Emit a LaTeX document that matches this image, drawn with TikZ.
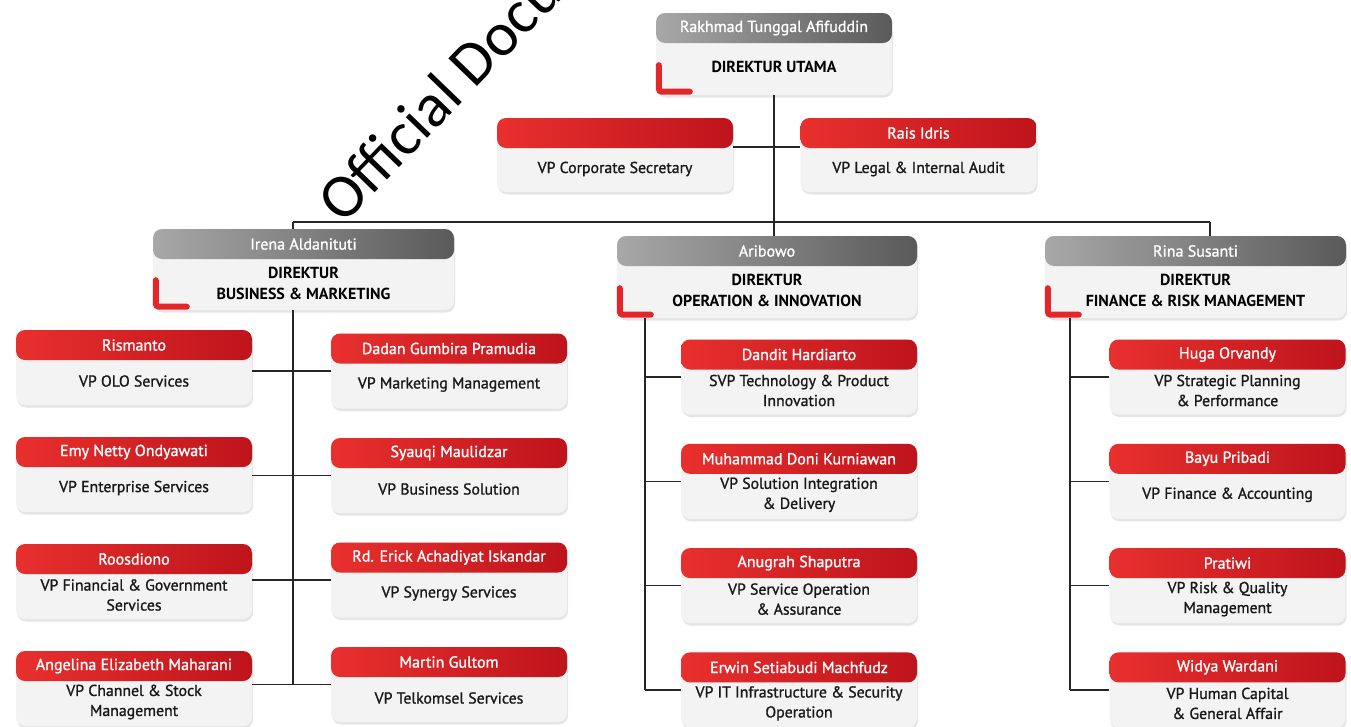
\documentclass[tikz,border=0pt]{standalone}
\usepackage{fontspec}
\setmainfont{PT Sans}
\newfontfamily\medfont{PT Sans}[FakeBold=1.2]
\newfontfamily\markfont{Carlito}
\usetikzlibrary{shadows, positioning}

\definecolor{hdred}{HTML}{E8302E}
\definecolor{hdreddark}{HTML}{BE141C}
\definecolor{hdgray}{HTML}{A8A8A8}
\definecolor{hdgraydark}{HTML}{5A5A5A}
\definecolor{bodygray}{HTML}{F3F3F3}
\definecolor{markred}{HTML}{E2262A}
\definecolor{linegray}{HTML}{262626}

\tikzstyle{box} = [rectangle, rounded corners=9pt, minimum width=236pt, minimum height=75pt, inner sep=0pt, fill=bodygray, drop shadow={opacity=0.2, shadow xshift=1pt, shadow yshift=-2.5pt}]
\tikzstyle{nametext} = [text=white, font=\medfont\fontsize{16}{18}\selectfont]
\tikzstyle{titletext} = [text=black!90, align=center, font=\medfont\fontsize{15.8}{20}\selectfont]
\tikzstyle{dirtext} = [text=black, align=center, font=\bfseries\fontsize{16}{21}\selectfont]
\tikzstyle{link} = [draw=linegray, line width=1.4pt]
\tikzstyle{redmark} = [draw=markred, line width=6pt, line cap=round, rounded corners=3pt]
\tikzstyle{watermark} = [text=black, font=\markfont\fontsize{62}{62}\selectfont, inner sep=0pt]

\tikzset{
  vp/.style 2 args={box, path picture={
    \shade[left color=hdred, right color=hdreddark] (path picture bounding box.north west) rectangle ([yshift=-30pt]path picture bounding box.north east);
    \node[nametext] at ([yshift=-15pt]path picture bounding box.north) {#1};
    \node[titletext] at ([yshift=-51pt]path picture bounding box.north) {#2};
  }},
  dir/.style 2 args={box, minimum width=301pt, minimum height=82pt, path picture={
    \shade[left color=hdgray, right color=hdgraydark] (path picture bounding box.north west) rectangle ([yshift=-30pt]path picture bounding box.north east);
    \node[nametext] at ([yshift=-15pt]path picture bounding box.north) {#1};
    \node[dirtext] at ([yshift=-54pt]path picture bounding box.north) {#2};
  }},
}

\begin{document}
\begin{tikzpicture}[x=1pt, y=-1pt]

\useasboundingbox (0,0) rectangle (1351,726);
\fill[white] (0,0) rectangle (1351,726);
\clip (0,0) rectangle (1351,726);

% board
\node (utama) [dir={Rakhmad Tunggal Afifuddin}{DIREKTUR UTAMA}, minimum width=236pt] at (774,54) {};
\node (corpsec) [vp={}{VP Corporate Secretary}, minimum height=74pt] at (615,155) {};
\node (legal) [vp={Rais Idris}{VP Legal \& Internal Audit}, minimum height=74pt] at (918.5,155) {};

\node (irena) [dir={Irena Aldanituti}{DIREKTUR\\BUSINESS \& MARKETING}, minimum height=81pt] at (303.5,269.5) {};
\node (aribowo) [dir={Aribowo}{DIREKTUR\\OPERATION \& INNOVATION}, minimum width=300pt] at (767,277) {};
\node (rina) [dir={Rina Susanti}{DIREKTUR\\FINANCE \& RISK MANAGEMENT}] at (1195.5,277) {};

\draw [redmark] ([xshift=3pt, yshift=30pt]utama.south west) |- ([xshift=34pt, yshift=3.5pt]utama.south west);
\draw [redmark] ([xshift=3pt, yshift=30pt]irena.south west) |- ([xshift=34pt, yshift=3.5pt]irena.south west);
\draw [redmark] ([xshift=3pt, yshift=30pt]aribowo.south west) |- ([xshift=34pt, yshift=3.5pt]aribowo.south west);
\draw [redmark] ([xshift=3pt, yshift=30pt]rina.south west) |- ([xshift=34pt, yshift=3.5pt]rina.south west);

% business & marketing
\node (rismanto) [vp={Rismanto}{VP OLO Services}] at (134,367.5) {};
\node (emy) [vp={Emy Netty Ondyawati}{VP Enterprise Services}, node distance=107pt, below of=rismanto] {};
\node (roosdiono) [vp={Roosdiono}{VP Financial \& Government\\Services}, node distance=107pt, below of=emy] {};
\node (angelina) [vp={Angelina Elizabeth Maharani}{VP Channel \& Stock\\Management}, node distance=107pt, below of=roosdiono] {};

\node (dadan) [vp={Dadan Gumbira Pramudia}{VP Marketing Management}] at (449,371) {};
\node (syauqi) [vp={Syauqi Maulidzar}{VP Business Solution}, node distance=104.5pt, below of=dadan] {};
\node (erick) [vp={Rd. Erick Achadiyat Iskandar}{VP Synergy Services}, node distance=104.5pt, below of=syauqi] {};
\node (martin) [vp={Martin Gultom}{VP Telkomsel Services}, node distance=104.5pt, below of=erick] {};

% operation & innovation
\node (dandit) [vp={Dandit Hardiarto}{SVP Technology \& Product\\Innovation}] at (799,377) {};
\node (doni) [vp={Muhammad Doni Kurniawan}{VP Solution Integration\\\& Delivery}, node distance=104.3pt, below of=dandit] {};
\node (anugrah) [vp={Anugrah Shaputra}{VP Service Operation\\\& Assurance}, node distance=104.3pt, below of=doni] {};
\node (erwin) [vp={Erwin Setiabudi Machfudz}{VP IT Infrastructure \& Security\\Operation}, node distance=104.3pt, below of=anugrah] {};

% finance & risk management
\node (huga) [vp={Huga Orvandy}{VP Strategic Planning\\\& Performance}] at (1227.5,377) {};
\node (bayu) [vp={Bayu Pribadi}{VP Finance \& Accounting}, node distance=104.3pt, below of=huga] {};
\node (pratiwi) [vp={Pratiwi}{VP Risk \& Quality\\Management}, node distance=104.3pt, below of=bayu] {};
\node (widya) [vp={Widya Wardani}{VP Human Capital\\\& General Affair}, node distance=104.3pt, below of=pratiwi] {};

% connectors
\coordinate (hub) at (774,147);
\coordinate (busL) at (293,222);
\coordinate (busR) at (1210,222);
\coordinate (spineA) at (293,0);
\coordinate (spineB) at (645,0);
\coordinate (spineC) at (1070,0);

\draw [link] (utama.south) -- (utama.south |- aribowo.north);
\draw [link] (corpsec.east |- hub) -- (legal.west |- hub);
\draw [link] (busL) -- (busR);
\draw [link] (busL) -- (busL |- irena.north);
\draw [link] (busR) -- (busR |- rina.north);

\draw [link] (spineA |- irena.south) -- (spineA |- martin.west);
\draw [link] (rismanto.east |- dadan.west) -- (dadan.west);
\draw [link] (emy.east |- syauqi.west) -- (syauqi.west);
\draw [link] (roosdiono.east |- erick.west) -- (erick.west);
\draw [link] (angelina.east |- martin.west) -- (martin.west);

\draw [link] (spineB |- aribowo.south) -- (spineB |- erwin.west);
\draw [link] (dandit.west) -- (dandit.west -| spineB);
\draw [link] (doni.west) -- (doni.west -| spineB);
\draw [link] (anugrah.west) -- (anugrah.west -| spineB);
\draw [link] (erwin.west) -- (erwin.west -| spineB);

\draw [link] (spineC |- rina.south) -- (spineC |- widya.west);
\draw [link] (huga.west) -- (huga.west -| spineC);
\draw [link] (bayu.west) -- (bayu.west -| spineC);
\draw [link] (pratiwi.west) -- (pratiwi.west -| spineC);
\draw [link] (widya.west) -- (widya.west -| spineC);

% stamp
\node (stamp) [watermark, rotate=46, anchor=base west] at (343,226) {Official Document};

\end{tikzpicture}
\end{document}
